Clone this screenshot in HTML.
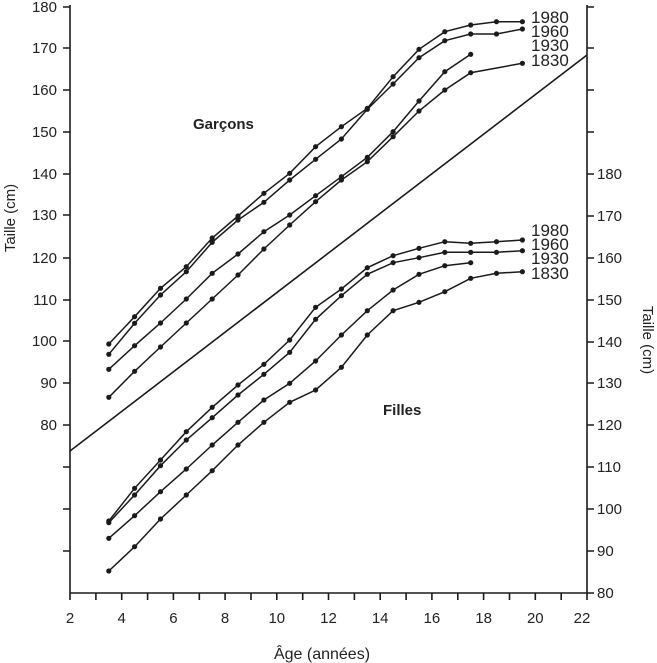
<!DOCTYPE html>
<html><head><meta charset="utf-8"><style>
body{margin:0;background:#fff}
svg{display:block;font-family:"Liberation Sans",sans-serif}
</style></head><body>
<svg width="657" height="663" viewBox="0 0 657 663" xmlns="http://www.w3.org/2000/svg">
<g stroke="#1a1a1a" stroke-width="1.6" fill="none">
<line x1="70" y1="5" x2="70" y2="593"/>
<line x1="587" y1="5" x2="587" y2="593"/>
<line x1="70" y1="593" x2="587" y2="593"/>
<path d="M63 7H70M63 48H70M63 90H70M63 132H70M63 174H70M63 215H70M63 258H70M63 300H70M63 341H70M63 383H70M63 425H70M63 467H70M63 509H70M63 551H70"/>
<path d="M587 7H594M587 48H594M587 90H594M587 132H594M587 174H594M587 216H594M587 258H594M587 300H594M587 342H594M587 383H594M587 425H594M587 467H594M587 509H594M587 551H594M587 593H594"/>
<path d="M70 593V600M95.9 593V600M121.7 593V600M147.6 593V600M173.4 593V600M199.3 593V600M225.1 593V600M251 593V600M276.8 593V600M302.7 593V600M328.5 593V600M354.4 593V600M380.2 593V600M406.1 593V600M431.9 593V600M457.8 593V600M483.6 593V600M509.5 593V600M535.3 593V600M561.2 593V600M587 593V600"/>
<line x1="70" y1="451" x2="587" y2="55"/>
<g stroke-width="1.5">
<polyline points="108.8,344 134.6,316.7 160.5,288.3 186.3,266.7 212.2,238 238,216 263.9,193.3 289.7,173.3 315.6,146.7 341.4,126.7 367.3,108.3 393.1,76.7 419,49.3 444.8,31.7 470.7,25 496.5,21.7 522.4,21.7"/>
<polyline points="108.8,354.3 134.6,323.3 160.5,295 186.3,271.7 212.2,242.3 238,220 263.9,202.3 289.7,180 315.6,159.3 341.4,139 367.3,109.3 393.1,84 419,57.7 444.8,40.7 470.7,34 496.5,34 522.4,29"/>
<polyline points="108.8,369.3 134.6,345.7 160.5,323 186.3,299 212.2,273.3 238,254 263.9,231.7 289.7,215 315.6,195.7 341.4,176.7 367.3,157.3 393.1,131.7 419,101 444.8,71.7 470.7,54.3"/>
<polyline points="108.8,397.3 134.6,371.3 160.5,347 186.3,323 212.2,299 238,275 263.9,249 289.7,225 315.6,201.7 341.4,180 367.3,161.7 393.1,136.7 419,111 444.8,90 470.7,72.7 522.4,63.3"/>
<polyline points="108.8,521 134.6,488.3 160.5,460 186.3,431.7 212.2,407.3 238,385 263.9,364.3 289.7,340 315.6,307.3 341.4,289 367.3,267.7 393.1,255.7 419,248.3 444.8,241.7 470.7,243.3 496.5,241.7 522.4,240"/>
<polyline points="108.8,522.7 134.6,495 160.5,465.7 186.3,440 212.2,417.7 238,395 263.9,374.3 289.7,352.3 315.6,319.3 341.4,295.7 367.3,274.3 393.1,262.7 419,257.7 444.8,252.3 470.7,252.3 496.5,252.3 522.4,250.7"/>
<polyline points="108.8,538.3 134.6,515.7 160.5,491.7 186.3,469 212.2,445 238,422.3 263.9,400 289.7,383.3 315.6,361 341.4,335 367.3,310.7 393.1,290 419,274.3 444.8,265.7 470.7,262.7"/>
<polyline points="108.8,571 134.6,546.7 160.5,519 186.3,495 212.2,470.7 238,445 263.9,422.3 289.7,402.3 315.6,390 341.4,367.3 367.3,335 393.1,310.7 419,302.3 444.8,291.7 470.7,278.3 496.5,273.3 522.4,271.7"/>
</g>
</g>
<g fill="#1a1a1a"><g id="dots"></g></g>
<g font-size="15" fill="#222" text-anchor="end">
<text x="57" y="12">180</text><text x="57" y="53">170</text><text x="57" y="95">160</text><text x="57" y="137">150</text><text x="57" y="179">140</text><text x="57" y="220">130</text><text x="57" y="263">120</text><text x="57" y="305">110</text><text x="57" y="346">100</text><text x="57" y="388">90</text><text x="57" y="430">80</text>
</g>
<g font-size="15" fill="#222" text-anchor="start">
<text x="597" y="179">180</text><text x="597" y="221">170</text><text x="597" y="263">160</text><text x="597" y="305">150</text><text x="597" y="347">140</text><text x="597" y="388">130</text><text x="597" y="430">120</text><text x="597" y="472">110</text><text x="597" y="514">100</text><text x="597" y="556">90</text><text x="597" y="598">80</text>
</g>
<g font-size="15" fill="#222" text-anchor="middle">
<text x="70" y="623">2</text><text x="121.7" y="623">4</text><text x="173.4" y="623">6</text><text x="225.1" y="623">8</text><text x="276.8" y="623">10</text><text x="328.5" y="623">12</text><text x="380.2" y="623">14</text><text x="431.9" y="623">16</text><text x="483.6" y="623">18</text><text x="535.3" y="623">20</text><text x="582" y="623">22</text>
<text x="322" y="659" font-size="16">Âge (années)</text>
</g>
<g font-size="17" fill="#222" textLength="40">
<text x="531" y="23">1980</text><text x="531" y="37">1960</text><text x="531" y="51">1930</text><text x="531" y="66">1830</text>
<text x="531" y="236">1980</text><text x="531" y="250">1960</text><text x="531" y="264">1930</text><text x="531" y="279">1830</text>
</g>
<text x="193" y="129" font-size="15" font-weight="bold" fill="#222">Garçons</text>
<text x="383" y="415" font-size="15" font-weight="bold" fill="#222">Filles</text>
<text transform="translate(15,218) rotate(-90)" font-size="15" fill="#222" text-anchor="middle">Taille (cm)</text>
<text transform="translate(643,340) rotate(90)" font-size="15" fill="#222" text-anchor="middle">Taille (cm)</text>
<script>
var g=document.getElementById('dots');
document.querySelectorAll('polyline').forEach(function(p){
p.getAttribute('points').trim().split(/\s+/).forEach(function(s){
var a=s.split(',');var c=document.createElementNS('http://www.w3.org/2000/svg','circle');
c.setAttribute('cx',a[0]);c.setAttribute('cy',a[1]);c.setAttribute('r','2.6');g.appendChild(c);});});
</script>
</svg>
</body></html>
